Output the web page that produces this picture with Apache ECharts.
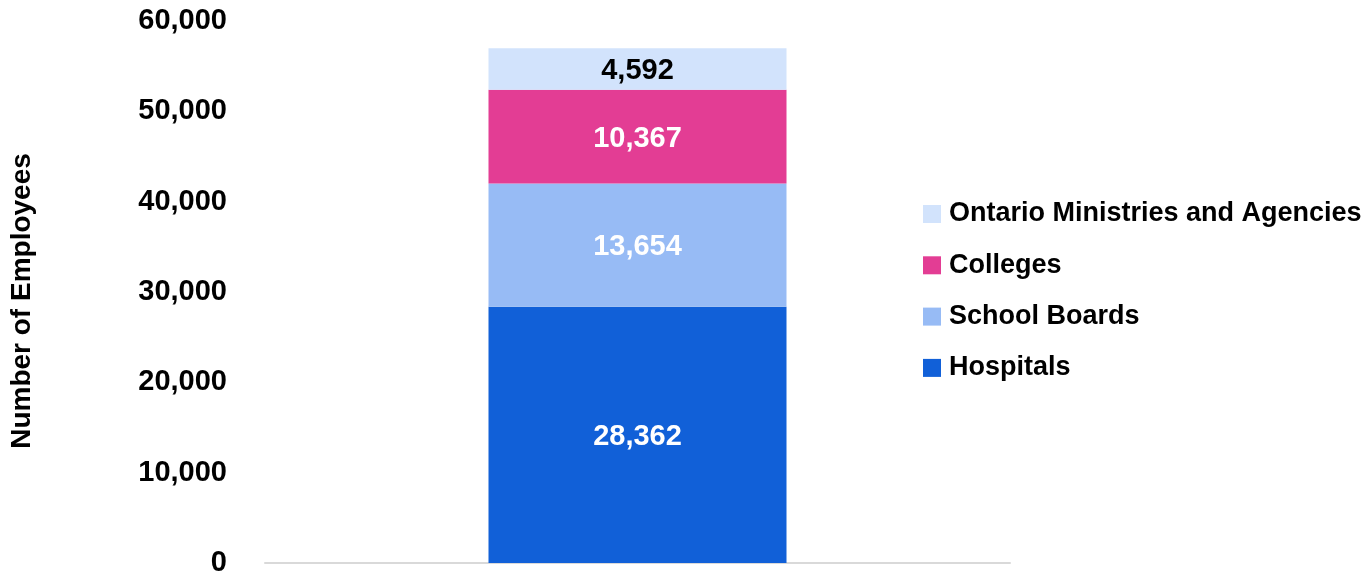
<!DOCTYPE html>
<html><head><meta charset="utf-8">
<script src="https://cdn.jsdelivr.net/npm/echarts@6/dist/echarts.min.js"></script>
<style>html,body{margin:0;padding:0;background:#fff}#c{width:1369px;height:577px}</style>
</head><body><div id="c"></div>
<script>
const categories = ['Employees'];
const seriesNames = ['Hospitals', 'School Boards', 'Colleges', 'Ontario Ministries and Agencies'];
const hospitals = [28362];
const schoolBoards = [13654];
const colleges = [10367];
const ministries = [4592];
const seriesValues = [hospitals, schoolBoards, colleges, ministries];
const colors = ['#1160D8', '#97BBF5', '#E33D94', '#D2E3FC'];
const labelColors = ['#ffffff', '#ffffff', '#ffffff', '#000000'];
const FONT = "'Liberation Sans', Arial, sans-serif";

const chart = echarts.init(document.getElementById('c'));
chart.setOption({
  animation: false,
  textStyle: { fontFamily: FONT, fontWeight: 'bold' },
  grid: { left: 265, right: 359, top: 21, bottom: 14, containLabel: false, outerBoundsMode: 'none' },
  legend: {
    orient: 'vertical', left: 923, top: 198, padding: 0,
    data: seriesNames.slice().reverse(),
    icon: 'rect', itemWidth: 18, itemHeight: 18, itemGap: 19.3,
    textStyle: { fontFamily: FONT, fontWeight: 'bold', fontSize: 27, color: '#000', lineHeight: 32, padding: [0,0,0,3] },
    selectedMode: false
  },
  xAxis: {
    type: 'category', data: categories,
    axisLine: { lineStyle: { color: '#d9d9d9', width: 2 } },
    axisTick: { show: false }, axisLabel: { show: false }
  },
  yAxis: {
    type: 'value', min: 0, max: 60000, interval: 10000,
    name: 'Number of Employees', nameLocation: 'middle', nameGap: 229,
    nameTextStyle: { fontFamily: FONT, fontWeight: 'bold', fontSize: 28, color: '#000', padding: [0, 18, 0, 0] },
    axisLine: { show: false }, axisTick: { show: false },
    splitLine: { show: false },
    axisLabel: { margin: 38, fontFamily: FONT, fontWeight: 'bold', fontSize: 29, color: '#000',
      padding: [5, 0, 0, 0],
      formatter: v => v.toLocaleString('en-US') }
  },
  series: seriesValues.map((vals, i) => ({
    name: seriesNames[i], type: 'bar', stack: 'total', data: vals,
    barWidth: 298,
    itemStyle: { color: colors[i] },
    label: { show: true, position: 'inside', offset: [0, 2], fontFamily: FONT, fontWeight: 'bold', fontSize: 29,
      color: labelColors[i], formatter: p => p.value.toLocaleString('en-US') }
  }))
});
</script></body></html>
